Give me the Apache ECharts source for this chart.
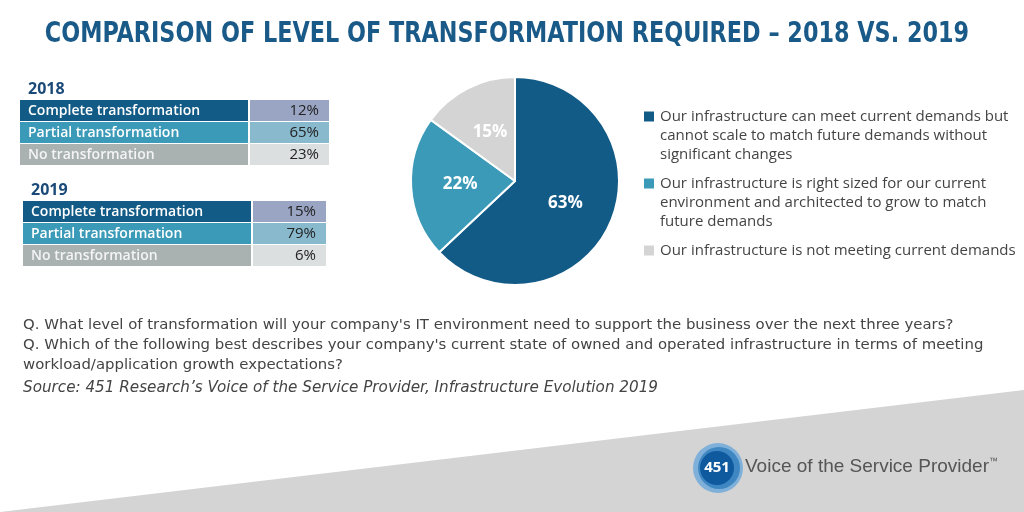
<!DOCTYPE html>
<html><head><meta charset="utf-8">
<script src="https://cdn.jsdelivr.net/npm/echarts@6/dist/echarts.min.js"></script>
<style>html,body{margin:0;padding:0;background:#fff}#c{width:1024px;height:512px}</style>
</head><body><div id="c"></div>
<script>
const titleText = 'COMPARISON OF LEVEL OF TRANSFORMATION REQUIRED \u2013 2018 VS. 2019';
const tableCategories = ['Complete transformation', 'Partial transformation', 'No transformation'];
const values2018 = [12, 65, 23];
const values2019 = [15, 79, 6];
const pieNames = [
  'Our infrastructure can meet current demands but\ncannot scale to match future demands without\nsignificant changes',
  'Our infrastructure is right sized for our current\nenvironment and architected to grow to match\nfuture demands',
  'Our infrastructure is not meeting current demands'
];
const pieValues = [63, 22, 15];
const notes = [
  "Q. What level of transformation will your company's IT environment need to support the business over the next three years?",
  "Q. Which of the following best describes your company's current state of owned and operated infrastructure in terms of meeting",
  "workload/application growth expectations?"
];
const sourceText = "Source: 451 Research\u2019s Voice of the Service Provider, Infrastructure Evolution 2019";

const pieColors = ['#135b87', '#3a9ab8', '#d4d4d4'];
const labelColors = ['#135b87', '#3a9ab8', '#a9b1b1'];
const valueColors = ['#99a5c3', '#88b9cd', '#dcdfdf'];
const bodyFont = '"Open Sans", "Liberation Sans", Arial, sans-serif';
const noteFont = '"DejaVu Sans", sans-serif';
const condFont = '"DejaVu Sans Condensed", "DejaVu Sans", sans-serif';

function table(year, vals, x0, y0, wL, wV) {
  const els = [];
  els.push({type:'text', x: x0 + 8, y: y0 - 11, style:{text: year, font: 'bold 16px ' + bodyFont, fill:'#1b4a78', verticalAlign:'middle'}});
  vals.forEach((v, i) => {
    const y = y0 + i * 22;
    els.push({type:'rect', shape:{x:x0, y:y, width:wL, height:21}, style:{fill:labelColors[i]}});
    els.push({type:'rect', shape:{x:x0 + wL + 2, y:y, width:wV, height:21}, style:{fill:valueColors[i]}});
    els.push({type:'text', x: x0 + 8, y: y + 11, style:{text: tableCategories[i], font: '600 14px ' + bodyFont, fill: i === 2 ? '#f4f4f4' : '#ffffff', verticalAlign:'middle'}});
    els.push({type:'text', x: x0 + wL + wV - 8, y: y + 11, style:{text: v + '%', font: '15px ' + bodyFont, fill:'#222', align:'right', verticalAlign:'middle'}});
  });
  return els;
}

// legend markers aligned with the first line of each legend entry
const legendLineH = 19, legendGap = 10, legendTop = 102;
const markerEls = [];
{
  let y = legendTop + 5;
  pieNames.forEach((n, i) => {
    markerEls.push({type:'rect', shape:{x:644, y:y + legendLineH / 2 - 5, width:10, height:10}, style:{fill:pieColors[i]}});
    y += n.split('\n').length * legendLineH + legendGap;
  });
}

const graphics = [
  {type:'polygon', z:-10, shape:{points:[[0,512],[1024,390],[1024,512]]}, style:{fill:'#d4d4d4'}},
  {type:'text', x:507, y:35, scaleX:0.887, originX:0, originY:0, style:{text:titleText, font:'bold 28px ' + condFont, fill:'#1a5a88', align:'center', verticalAlign:'middle'}},
  ...table('2018', values2018, 20, 100, 228, 79),
  ...table('2019', values2019, 23, 201, 228, 73),
  ...notes.map((t, i) => ({type:'text', x: 23, y: 325 + i * 20, style:{text:t, font:'14.9px ' + noteFont, fill:'#444', verticalAlign:'middle'}})),
  {type:'text', x: 23, y: 388, style:{text: sourceText, font:'italic 15.2px ' + noteFont, fill:'#444', verticalAlign:'middle'}},
  ...markerEls,
  {type:'circle', shape:{cx:718, cy:468, r:25}, style:{fill:'#7fb0da'}},
  {type:'circle', shape:{cx:719, cy:468, r:21}, style:{fill:'#3f87c2'}},
  {type:'circle', shape:{cx:717, cy:468, r:17}, style:{fill:'#0f5a9e'}},
  {type:'text', x:717, y:468, style:{text:'451', font:'bold 15px ' + bodyFont, fill:'#fff', align:'center', verticalAlign:'middle'}},
  {type:'text', x:745, y:467, style:{text:'{a|Voice of the Service Provider}{t|\u2122}', verticalAlign:'middle',
    rich:{a:{fontFamily:'"Liberation Sans", Arial, sans-serif', fontSize:19, fill:'#555'}, t:{fontFamily:'"Liberation Sans", Arial, sans-serif', fontSize:9, fill:'#555', verticalAlign:'top', padding:[0,0,6,0]}}}}
];

const chart = echarts.init(document.getElementById('c'));
chart.setOption({
  backgroundColor:'#ffffff',
  animation:false,
  color: pieColors,
  legend:{orient:'vertical', left:639, top:legendTop, itemWidth:10, itemHeight:10, itemGap:legendGap, icon:'rect',
    itemStyle:{opacity:0},
    textStyle:{fontFamily:bodyFont, fontSize:15, color:'#444', lineHeight:legendLineH}},
  graphic: graphics,
  series:[{
    type:'pie', center:[515,181], radius:[0,104], startAngle:90, clockwise:true,
    itemStyle:{borderColor:'#fff', borderWidth:2},
    label:{position:'inside', formatter:'{c}%', color:'#fff', fontWeight:'bold', fontSize:17, fontFamily:bodyFont},
    labelLine:{show:false},
    data: pieNames.map((n, i) => ({name:n, value:pieValues[i]}))
  }]
});
</script></body></html>
